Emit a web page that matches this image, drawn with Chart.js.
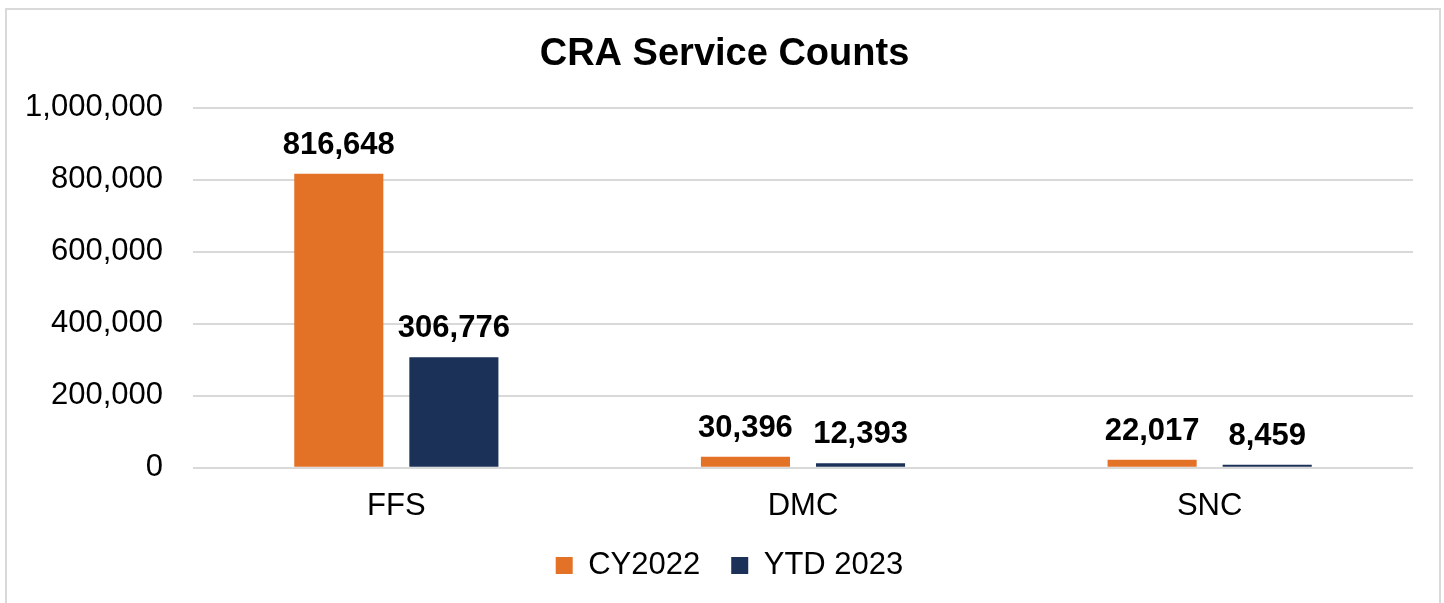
<!DOCTYPE html>
<html>
<head>
<meta charset="utf-8">
<script src="https://cdn.jsdelivr.net/npm/chart.js@4/dist/chart.umd.min.js"></script>
<style>
  html, body { margin: 0; padding: 0; background: #fff; }
  #wrap { position: relative; width: 1444px; height: 603px; }
  #frame { position: absolute; left: 5px; top: 8px; width: 1436px; height: 600px; border: 2px solid #D9D9D9; box-sizing: border-box; pointer-events: none; }
  canvas { position: absolute; left: 0; top: 0; }
</style>
</head>
<body>
<div id="wrap">
  <canvas id="c" width="1444" height="603"></canvas>
  <div id="frame"></div>
</div>
<script>
const categories = ['FFS', 'DMC', 'SNC'];
const seriesNames = ['CY2022', 'YTD 2023'];
const cy2022 = [816648, 30396, 22017];
const ytd2023 = [306776, 12393, 8459];
const yTicks = [0, 200000, 400000, 600000, 800000, 1000000];

const FONT = '"Liberation Sans", Arial, sans-serif';
const fmt = v => Number(v).toLocaleString('en-US');

const valueLabels = {
  id: 'valueLabels',
  afterDatasetsDraw(chart) {
    const ctx = chart.ctx;
    ctx.save();
    ctx.font = 'bold 31px ' + FONT;
    ctx.fillStyle = '#000';
    ctx.textAlign = 'center';
    ctx.textBaseline = 'alphabetic';
    chart.data.datasets.forEach((ds, di) => {
      const meta = chart.getDatasetMeta(di);
      meta.data.forEach((bar, i) => {
        ctx.fillText(fmt(ds.data[i]), bar.x, bar.y - 20);
      });
    });
    ctx.restore();
  }
};

// nudge title and legend horizontally to match reference centering
const shiftBlocks = {
  id: 'shiftBlocks',
  afterLayout(chart) {
    if (chart.titleBlock) { chart.titleBlock.left += 6; chart.titleBlock.right += 6; }
    if (chart.legend) { chart.legend.left += 11; chart.legend.right += 11; }
  }
};

new Chart(document.getElementById('c'), {
  type: 'bar',
  data: {
    labels: categories,
    datasets: [
      { label: seriesNames[0], data: cy2022, backgroundColor: '#E37227', borderWidth: 0 },
      { label: seriesNames[1], data: ytd2023, backgroundColor: '#1B3157', borderWidth: 0 }
    ]
  },
  options: {
    responsive: false,
    animation: false,
    devicePixelRatio: 1,
    layout: { padding: { left: 24, right: 31, top: 0, bottom: 12 } },
    datasets: { bar: { categoryPercentage: 0.566, barPercentage: 0.774 } },
    scales: {
      x: {
        grid: { display: false, drawTicks: false },
        border: { display: false },
        ticks: { color: '#000', font: { family: FONT, size: 31 }, padding: 20 },
        afterFit(axis) { axis.height -= 26; }
      },
      y: {
        min: 0, max: 1000000,
        afterBuildTicks(axis) { axis.ticks = yTicks.map(v => ({ value: v })); },
        afterFit(axis) { axis.width = 169; },
        grid: { color: '#D9D9D9', lineWidth: 2, drawTicks: false },
        border: { display: false },
        ticks: { color: '#000', font: { family: FONT, size: 31 }, padding: 30, callback: v => fmt(v) }
      }
    },
    plugins: {
      title: {
        display: true,
        text: 'CRA Service Counts',
        color: '#000',
        font: { family: FONT, size: 38, weight: 'bold' },
        padding: { top: 32, bottom: 30 }
      },
      legend: {
        position: 'bottom',
        labels: {
          color: '#000',
          font: { family: FONT, size: 31 },
          boxWidth: 17, boxHeight: 17,
          padding: 31
        }
      },
      tooltip: { enabled: false }
    }
  },
  plugins: [shiftBlocks, valueLabels]
});
</script>
</body>
</html>
